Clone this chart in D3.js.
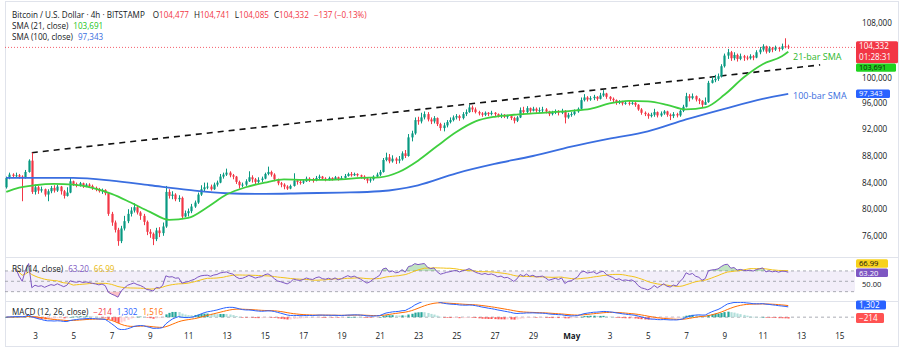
<!DOCTYPE html>
<html><head><meta charset="utf-8">
<script src="https://cdn.jsdelivr.net/npm/d3@7"></script>
<style>
body{margin:0;background:#fff}
svg{display:block}
text{font-family:"Open Sans","Liberation Sans",Arial,sans-serif}
</style>
</head><body>
<svg id="chart" width="903" height="351"></svg>
<script>
// ---------------- DATA ----------------
const startTime = Date.UTC(2025, 3, 1, 12); // first 4h bar: Apr 1 12:00 UTC
const barHours = 4;
const firstOpen = 83300;

const closes = [
  84700,85200,85000,
  85100,84900,84700,85600,87300,82600,
  83300,82800,83000,82200,82700,83200,
  82800,83400,82700,82000,82500,84200,
  83800,83600,83900,83500,83700,83500,
  83200,83000,82700,82900,82400,79300,
  78000,76900,75200,77100,78200,79300,
  79800,80300,79500,79000,78100,76600,
  76300,75500,76800,76400,77400,82600,
  82000,82200,81500,81700,78900,79400,
  79700,80400,81000,82200,83000,83300,
  83400,83000,83700,84000,84900,85200,
  85500,85100,84900,84100,83600,83700,
  84200,84800,84500,84100,84400,84600,
  85300,85600,85200,84500,83900,83700,
  83400,83100,83500,84300,84100,84000,
  84200,84600,84400,84300,84700,84900,
  84600,84500,84700,84500,84800,84500,
  84700,85000,85300,85100,85300,85100,
  84900,84600,84300,84500,84900,85200,
  85600,87400,87800,87200,87600,87300,
  87500,88400,88000,90800,91400,93400,
  93200,93800,94300,93500,93200,93700,
  92800,92200,92600,93100,93400,93800,
  94000,93700,94300,94600,95300,95000,
  94600,94400,94200,94500,94300,94500,
  94300,94000,94200,93900,94000,93700,
  93300,93800,94900,94600,95200,94800,
  95100,94800,94900,95000,94700,94300,
  94500,94700,94500,94800,93800,94200,
  94300,94700,95100,96400,96800,96500,
  96700,96900,96600,97100,97400,96900,
  96600,96400,96000,96200,95900,96000,
  95900,96000,95700,95000,94500,94300,
  94000,94200,94600,94100,94400,94700,
  94200,94000,94300,94100,94800,95400,
  97000,96700,97000,96500,96300,95700,
  96100,99000,99400,99600,100000,101500,
  103100,103600,102700,103200,102600,103000,
  102800,102700,103000,102800,103600,104000,
  104500,103700,104200,104000,104300,104100,
  104500,104477,104332
];
const highs = [
  84900,85500,85400,
  85500,85300,85100,85900,87500,88500,
  83700,83500,83400,83100,83000,83500,
  83600,83700,83500,82900,83300,84700,
  84300,84000,84100,84000,83900,83900,
  83700,83400,83200,83100,83000,82500,
  79600,78300,77200,77500,79000,80000,
  80300,80900,80600,79700,79300,78300,
  77000,76500,77200,77300,78000,83500,
  83000,82700,82400,82100,81900,79800,
  80100,80800,81300,82500,83600,84000,
  84000,83700,84000,84300,85300,85500,
  86100,85700,85300,85000,84300,84000,
  84500,85700,85100,84700,84800,84900,
  85500,86400,85800,85400,84600,84100,
  83900,83600,83700,85400,84500,84400,
  84500,84900,84800,84700,85000,85200,
  85000,84800,84900,84800,85000,84900,
  85000,85300,85500,85600,85500,85400,
  85200,85100,84700,84700,85100,85500,
  85900,87700,88500,88300,88100,87800,
  88000,88700,88900,91300,91800,93800,
  93900,94500,94700,94600,93800,94000,
  93800,93000,93000,93400,93800,94100,
  94300,94200,94600,95000,95700,95600,
  95300,94800,94600,94700,94600,94800,
  94600,94400,94400,94300,94200,94100,
  93900,94000,95300,95400,95500,95300,
  95400,95300,95300,95400,95200,94800,
  94800,95000,94900,95100,94900,94500,
  94600,95000,95300,96800,97300,97000,
  97000,97200,97000,97500,97900,97500,
  97000,96800,96500,96400,96300,96300,
  96300,96200,96100,95800,95200,94700,
  94500,94500,95100,94700,94700,94900,
  94800,94400,94600,94500,95000,95700,
  97500,97300,97400,97100,96700,96400,
  96800,99300,99900,100200,100400,101800,
  103400,104100,103800,103600,103400,103400,
  103200,103100,103300,103200,103900,104400,
  104800,104600,104500,104400,104600,104400,
  104900,105700,104741
];
const lows = [
  83100,84500,84700,
  84800,84600,81200,84600,85500,82300,
  82200,82300,82500,81900,81200,82400,
  82500,82600,82200,81600,81900,82400,
  83500,83300,83400,83200,83300,83200,
  82900,82700,82500,82300,82100,79000,
  77500,76500,74500,74900,76800,77900,
  78900,79500,79200,78400,77600,76100,
  75700,74600,75200,75800,76000,77200,
  81600,81500,81200,81100,78500,78800,
  78900,79400,80200,80800,82000,82700,
  83000,82800,82900,83400,83900,84600,
  85000,84800,84500,83800,83100,83300,
  83500,84100,84000,83700,83900,84100,
  84500,85100,84900,84200,83600,83300,
  83000,82900,83000,83400,83700,83700,
  83800,84100,84100,84000,84200,84500,
  84400,84200,84300,84300,84400,84300,
  84400,84600,84900,84900,85000,84900,
  84600,84400,83900,84000,84300,84800,
  85000,85500,87200,86900,87000,86800,
  86900,87300,87700,87900,90200,91200,
  92700,92900,93500,93200,92800,92900,
  92500,91800,91700,92300,92900,93200,
  93500,93300,93500,94000,94500,94600,
  94400,94100,93900,94000,94000,94100,
  94000,93800,93700,93700,93600,93400,
  92900,93100,93700,94200,94400,94500,
  94700,94500,94500,94600,94400,94000,
  94100,94300,94100,94300,92900,93600,
  93900,94100,94500,95000,96200,96200,
  96300,96400,96300,96500,96900,96600,
  96300,96100,95700,95800,95600,95700,
  95600,95700,95400,94800,94200,94000,
  93600,93800,93900,93800,93900,94200,
  93900,93400,93700,93800,93900,94600,
  95300,96200,96500,96200,95800,95300,
  95800,96000,98900,99100,99300,99800,
  101300,102600,102300,102400,102200,102400,
  102300,102400,102500,102400,102700,103300,
  103700,103400,103500,103600,103800,103700,
  103900,104200,104085
];

const sma21Dates = ["2025-04-01T12:00Z","2025-04-02T00:00Z","2025-04-03T00:00Z","2025-04-04T00:00Z","2025-04-05T00:00Z","2025-04-06T00:00Z","2025-04-07T00:00Z","2025-04-08T00:00Z","2025-04-09T00:00Z","2025-04-10T00:00Z","2025-04-11T00:00Z","2025-04-12T00:00Z","2025-04-13T00:00Z","2025-04-14T00:00Z","2025-04-15T00:00Z","2025-04-16T00:00Z","2025-04-17T00:00Z","2025-04-18T00:00Z","2025-04-19T00:00Z","2025-04-20T00:00Z","2025-04-21T00:00Z","2025-04-22T00:00Z","2025-04-23T00:00Z","2025-04-24T00:00Z","2025-04-25T00:00Z","2025-04-26T00:00Z","2025-04-27T00:00Z","2025-04-28T00:00Z","2025-04-29T00:00Z","2025-04-30T00:00Z","2025-05-01T00:00Z","2025-05-02T00:00Z","2025-05-03T00:00Z","2025-05-04T00:00Z","2025-05-05T00:00Z","2025-05-06T00:00Z","2025-05-07T00:00Z","2025-05-08T00:00Z","2025-05-09T00:00Z","2025-05-10T00:00Z","2025-05-11T00:00Z","2025-05-12T00:00Z","2025-05-12T08:00Z"];
const sma21Values = [82600,83100,83600,83800,83700,83200,82300,81000,79600,78400,78700,80300,82200,83300,84000,84500,84400,84400,84500,84700,84800,85600,87300,89500,91600,93200,93900,94200,94400,94600,94800,95100,95900,96300,96200,95700,95000,95300,97200,99800,101800,103000,103691];

const sma100Dates = ["2025-04-01T12:00Z","2025-04-03T00:00Z","2025-04-05T00:00Z","2025-04-07T00:00Z","2025-04-09T00:00Z","2025-04-11T00:00Z","2025-04-13T00:00Z","2025-04-15T00:00Z","2025-04-17T00:00Z","2025-04-19T00:00Z","2025-04-21T00:00Z","2025-04-23T00:00Z","2025-04-25T00:00Z","2025-04-27T00:00Z","2025-04-29T00:00Z","2025-05-01T00:00Z","2025-05-03T00:00Z","2025-05-05T00:00Z","2025-05-07T00:00Z","2025-05-09T00:00Z","2025-05-11T00:00Z","2025-05-12T08:00Z"];
const sma100Values = [84700,84700,84700,84300,83600,82900,82400,82300,82400,82500,82700,83600,85400,86800,88000,89400,90600,91700,93500,95100,96600,97343];

const trendDates = ["2025-04-02T20:00Z","2025-05-14T00:00Z"];
const trendValues = [88500,101700];

const priceTicks = [76000,80000,84000,88000,92000,96000,100000,108000];
const xTickDates = ["2025-04-03","2025-04-05","2025-04-07","2025-04-09","2025-04-11","2025-04-13","2025-04-15","2025-04-17","2025-04-19","2025-04-21","2025-04-23","2025-04-25","2025-04-27","2025-04-29","2025-05-01","2025-05-03","2025-05-05","2025-05-07","2025-05-09","2025-05-11","2025-05-13","2025-05-15"];
const xTickLabels = ["3","5","7","9","11","13","15","17","19","21","23","25","27","29","May","3","5","7","9","11","13","15"];

const headerTitle = "Bitcoin / U.S. Dollar · 4h · BITSTAMP";
const ohlcKeys = ["O","H","L","C"];
const ohlcValues = ["104,477","104,741","104,085","104,332"];
const changeText = "−137 (−0.13%)";
const countdown = "01:28:31";
const smaLegend = [["SMA (21, close)","103,691"],["SMA (100, close)","97,343"]];
const rsiLegend = ["RSI (14, close)","63.20","66.99"];
const macdLegend = ["MACD (12, 26, close)","−214","1,302","1,516"];
const lineLabels = ["21-bar SMA","100-bar SMA"];

// ---------------- COLORS ----------------
const UP="#089981", DOWN="#f23645", TXT="#131722";
const C_SMA21="#3fcf3f", C_SMA100="#3a6ee0";
const C_RSI="#7e57c2", C_RSIMA="#f2c318";
const C_MACD="#2962ff", C_SIG="#ff6d00";
const FS=8.1;

// ---------------- SETUP ----------------
const svg = d3.select("#chart");
const W=903, H=351, plotL=5, plotR=855;
const parse = s => new Date(s);

const x = d3.scaleTime()
  .domain([new Date(Date.UTC(2025,3,3)), new Date(Date.UTC(2025,4,15))])
  .range([35, 839.3]);
const y = d3.scaleLinear().domain([76000,108000]).range([235.8,23]);
const yR = d3.scaleLinear().domain([10,95]).range([302,258]);
const yM = d3.scaleLinear().domain([-1500,2100]).range([328,302]);

const bars = closes.map((c,i)=>({
  t: new Date(startTime + i*barHours*3600e3),
  o: i ? closes[i-1] : firstOpen, h: highs[i], l: lows[i], c
}));

// indicators derived from the closes
const rsi=[]; {let ag=0, al=0;
  for(let i=1;i<closes.length;i++){
    const ch=closes[i]-closes[i-1], g=Math.max(ch,0), l=Math.max(-ch,0);
    if(i<=14){ag=(ag*(i-1)+g)/i; al=(al*(i-1)+l)/i;}
    else {ag=(ag*13+g)/14; al=(al*13+l)/14;}
    rsi[i] = al===0?100:100-100/(1+ag/al);
  }}
const rsiMA=[]; for(let i=3;i<rsi.length;i++){const s=rsi.slice(Math.max(3,i-13),i+1); rsiMA[i]=d3.mean(s);}
const ema=(arr,n)=>{const k=2/(n+1); const out=[]; arr.forEach((v,i)=>out[i]= i? v*k+out[i-1]*(1-k) : v); return out;};
const e12=ema(closes,12), e26=ema(closes,26);
const macd=closes.map((_,i)=>e12[i]-e26[i]);
const sig=ema(macd,9);
const hist=macd.map((m,i)=>m-sig[i]);

// ---------------- FRAME ----------------
svg.append("rect").attr("x",0).attr("y",0).attr("width",W).attr("height",H).attr("fill","#fff");
svg.append("rect").attr("x",5.5).attr("y",1.5).attr("width",893).attr("height",345)
  .attr("fill","none").attr("stroke","#e0e3eb");
[257.5,301.5].forEach(v=>svg.append("line").attr("x1",5.5).attr("x2",898.5).attr("y1",v).attr("y2",v).attr("stroke","#e0e3eb"));

const defs=svg.append("defs");
defs.append("clipPath").attr("id","cMain").append("rect").attr("x",plotL).attr("y",2).attr("width",plotR-plotL).attr("height",255);
defs.append("clipPath").attr("id","cRsi").append("rect").attr("x",plotL).attr("y",258).attr("width",plotR-plotL).attr("height",43);
defs.append("clipPath").attr("id","cMacd").append("rect").attr("x",plotL).attr("y",302).attr("width",plotR-plotL).attr("height",28);

// ---------------- MAIN PANE ----------------
const gMain = svg.append("g").attr("clip-path","url(#cMain)");

gMain.append("line").attr("x1",plotL).attr("x2",plotR)
  .attr("y1",y(closes[closes.length-1])).attr("y2",y(closes[closes.length-1]))
  .attr("stroke",DOWN).attr("stroke-width",0.8).attr("stroke-dasharray","1,2");

gMain.append("line")
  .attr("x1",x(parse(trendDates[0]))).attr("y1",y(trendValues[0]))
  .attr("x2",x(parse(trendDates[1]))).attr("y2",y(trendValues[1]))
  .attr("stroke","#111").attr("stroke-width",1.6).attr("stroke-dasharray","6,5");

const cg = gMain.append("g");
cg.selectAll("line.w").data(bars).join("line").attr("class","w")
  .attr("x1",d=>Math.round(x(d.t))+0.5).attr("x2",d=>Math.round(x(d.t))+0.5)
  .attr("y1",d=>y(Math.max(d.h,d.o,d.c))).attr("y2",d=>y(Math.min(d.l,d.o,d.c)))
  .attr("stroke",d=>d.c>=d.o?UP:DOWN).attr("stroke-width",1);
cg.selectAll("rect.b").data(bars).join("rect").attr("class","b")
  .attr("x",d=>Math.round(x(d.t))-0.6).attr("width",2.2)
  .attr("y",d=>y(Math.max(d.o,d.c)))
  .attr("height",d=>Math.max(1,Math.abs(y(d.o)-y(d.c))))
  .attr("fill",d=>d.c>=d.o?UP:DOWN);

const lineGen = d3.line().x(d=>x(d[0])).y(d=>y(d[1])).curve(d3.curveMonotoneX);
gMain.append("path").datum(sma100Dates.map((s,i)=>[parse(s),sma100Values[i]]))
  .attr("d",lineGen).attr("fill","none").attr("stroke",C_SMA100).attr("stroke-width",1.8);
gMain.append("path").datum(sma21Dates.map((s,i)=>[parse(s),sma21Values[i]]))
  .attr("d",lineGen).attr("fill","none").attr("stroke",C_SMA21).attr("stroke-width",1.8);

svg.append("text").attr("x",793).attr("y",y(sma21Values[sma21Values.length-1])+8.5)
  .attr("font-size",9).attr("fill","#2eb82e").text(lineLabels[0]);
svg.append("text").attr("x",793).attr("y",y(sma100Values[sma100Values.length-1])+5.5)
  .attr("font-size",9).attr("fill",C_SMA100).text(lineLabels[1]);

// ---------------- HEADER ----------------
const title = svg.append("text").attr("x",12).attr("y",18).attr("font-size",FS).attr("fill",TXT).text(headerTitle);
const tEnd = 12 + title.node().getComputedTextLength();
const h1 = svg.append("text").attr("x",tEnd+8).attr("y",18).attr("font-size",FS).attr("fill",TXT);
ohlcKeys.forEach((k,i)=>{
  h1.append("tspan").attr("dx", i===0?0:5).attr("fill",TXT).text(k);
  h1.append("tspan").attr("fill",DOWN).text(ohlcValues[i]);
});
h1.append("tspan").attr("dx",5).attr("fill",DOWN).text(changeText);
smaLegend.forEach((s,i)=>{
  const t=svg.append("text").attr("x",12).attr("y",29+i*10.5).attr("font-size",FS).attr("fill",TXT);
  t.append("tspan").text(s[0]);
  t.append("tspan").attr("dx",5).attr("fill",i===0?"#22c422":C_SMA100).text(s[1]);
});

// ---------------- PRICE AXIS ----------------
const fmt = d3.format(",");
const pa = svg.append("g").attr("transform","translate(862,0)")
  .call(d3.axisRight(y).tickValues(priceTicks).tickSize(0).tickPadding(0).tickFormat(fmt));
pa.select(".domain").remove();
pa.selectAll("text").attr("font-size",FS).attr("fill",TXT).attr("font-family","Open Sans, Liberation Sans, Arial, sans-serif")
  .attr("dy",d=>d===100000?"0.5em":"0.32em");

function badge(y0,h,w,bg,fg,lines,fs){
  svg.append("rect").attr("x",856).attr("y",y0).attr("width",w).attr("height",h).attr("rx",1.5).attr("fill",bg);
  lines.forEach((s,i)=>svg.append("text").attr("x",859).attr("y",y0+ (h/lines.length)*(i+0.5)+2.7)
    .attr("font-size",fs||FS).attr("fill",fg).text(s));
}
badge(41.2,22,42,DOWN,"#fff",[ohlcValues[3],countdown]);
badge(63.6,8.2,40,"#1fd31f","#111",[smaLegend[0][1]],7.4);
badge(89.5,8.5,34,"#2962ff","#fff",[smaLegend[1][1]],7.6);

// ---------------- RSI PANE ----------------
const gR = svg.append("g").attr("clip-path","url(#cRsi)");
gR.append("rect").attr("x",plotL).attr("width",plotR-plotL).attr("y",yR(70)).attr("height",yR(30)-yR(70))
  .attr("fill","rgba(126,87,194,0.1)");
[70,50,30].forEach(v=>gR.append("line").attr("x1",plotL).attr("x2",plotR).attr("y1",yR(v)).attr("y2",yR(v))
  .attr("stroke","#9598a1").attr("stroke-width",0.8).attr("stroke-dasharray","3,3"));
const rsiPts = bars.map((b,i)=>[b.t,rsi[i]]).filter((d,i)=>i>=3);
gR.append("path").datum(rsiPts)
  .attr("d",d3.area().x(d=>x(d[0])).y0(yR(70)).y1(d=>Math.min(yR(d[1]),yR(70))))
  .attr("fill","rgba(76,175,80,0.35)");
gR.append("path").datum(rsiPts)
  .attr("d",d3.area().x(d=>x(d[0])).y0(yR(30)).y1(d=>Math.max(yR(d[1]),yR(30))))
  .attr("fill","rgba(242,54,69,0.3)");
gR.append("path").datum(bars.map((b,i)=>[b.t,rsiMA[i]]).filter((d,i)=>i>=3))
  .attr("d",d3.line().x(d=>x(d[0])).y(d=>yR(d[1]))).attr("fill","none").attr("stroke",C_RSIMA).attr("stroke-width",1);
gR.append("path").datum(rsiPts)
  .attr("d",d3.line().x(d=>x(d[0])).y(d=>yR(d[1]))).attr("fill","none").attr("stroke",C_RSI).attr("stroke-width",1);

const rl = svg.append("text").attr("x",12).attr("y",272).attr("font-size",FS).attr("fill",TXT);
rl.append("tspan").text(rsiLegend[0]);
rl.append("tspan").attr("dx",5).attr("fill",C_RSI).text(rsiLegend[1]);
rl.append("tspan").attr("dx",5).attr("fill","#e8b90c").text(rsiLegend[2]);

const ra = svg.append("g").attr("transform","translate(862,0)")
  .call(d3.axisRight(yR).tickValues([50]).tickSize(0).tickPadding(0).tickFormat(d3.format(".2f")));
ra.select(".domain").remove();
ra.selectAll("text").attr("font-size",7.6).attr("fill",TXT).attr("font-family","Open Sans, Liberation Sans, Arial, sans-serif").attr("dy","0.75em");
badge(259.3,8.5,32,"#f7d21c","#111",[rsiLegend[2]],7.6);
badge(268.6,8.5,32,C_RSI,"#fff",[rsiLegend[1]],7.6);

// ---------------- MACD PANE ----------------
const gM = svg.append("g").attr("clip-path","url(#cMacd)");
gM.append("line").attr("x1",plotL).attr("x2",plotR).attr("y1",yM(0)).attr("y2",yM(0))
  .attr("stroke","#9598a1").attr("stroke-width",0.8).attr("stroke-dasharray","3,3");
gM.selectAll("rect").data(bars).join("rect")
  .attr("x",d=>Math.round(x(d.t))-0.6).attr("width",2.2)
  .attr("y",(d,i)=>Math.min(yM(0),yM(hist[i])))
  .attr("height",(d,i)=>Math.max(0.6,Math.abs(yM(hist[i])-yM(0))))
  .attr("fill",(d,i)=>{const h=hist[i], p=i?hist[i-1]:0;
    return h>=0 ? (h>=p?"#26a69a":"#b2dfdb") : (h<p?"#ff5252":"#ffcdd2");});
gM.append("path").datum(bars.map((b,i)=>[b.t,sig[i]]))
  .attr("d",d3.line().x(d=>x(d[0])).y(d=>yM(d[1]))).attr("fill","none").attr("stroke",C_SIG).attr("stroke-width",1);
gM.append("path").datum(bars.map((b,i)=>[b.t,macd[i]]))
  .attr("d",d3.line().x(d=>x(d[0])).y(d=>yM(d[1]))).attr("fill","none").attr("stroke",C_MACD).attr("stroke-width",1);

const ml = svg.append("text").attr("x",12).attr("y",315).attr("font-size",FS).attr("fill",TXT);
ml.append("tspan").text(macdLegend[0]);
ml.append("tspan").attr("dx",5).attr("fill","#f23645").text(macdLegend[1]);
ml.append("tspan").attr("dx",5).attr("fill",C_MACD).text(macdLegend[2]);
ml.append("tspan").attr("dx",5).attr("fill",C_SIG).text(macdLegend[3]);
badge(300.5,9,30,"#2962ff","#fff",[macdLegend[2]]);
badge(313,10,28,"#ff5252","#fff",[macdLegend[1]]);

// ---------------- TIME AXIS ----------------
const xa = svg.append("g").attr("transform","translate(0,330)")
  .call(d3.axisBottom(x).tickValues(xTickDates.map(s=>new Date(s+"T00:00Z"))).tickSize(0).tickPadding(3)
    .tickFormat((d,i)=>xTickLabels[i]));
xa.select(".domain").remove();
xa.selectAll("text").attr("font-size",FS).attr("fill",TXT).attr("font-family","Open Sans, Liberation Sans, Arial, sans-serif")
  .attr("font-weight",(d,i)=>xTickLabels[i]==="May"?"bold":"normal");
</script>
</body></html>
